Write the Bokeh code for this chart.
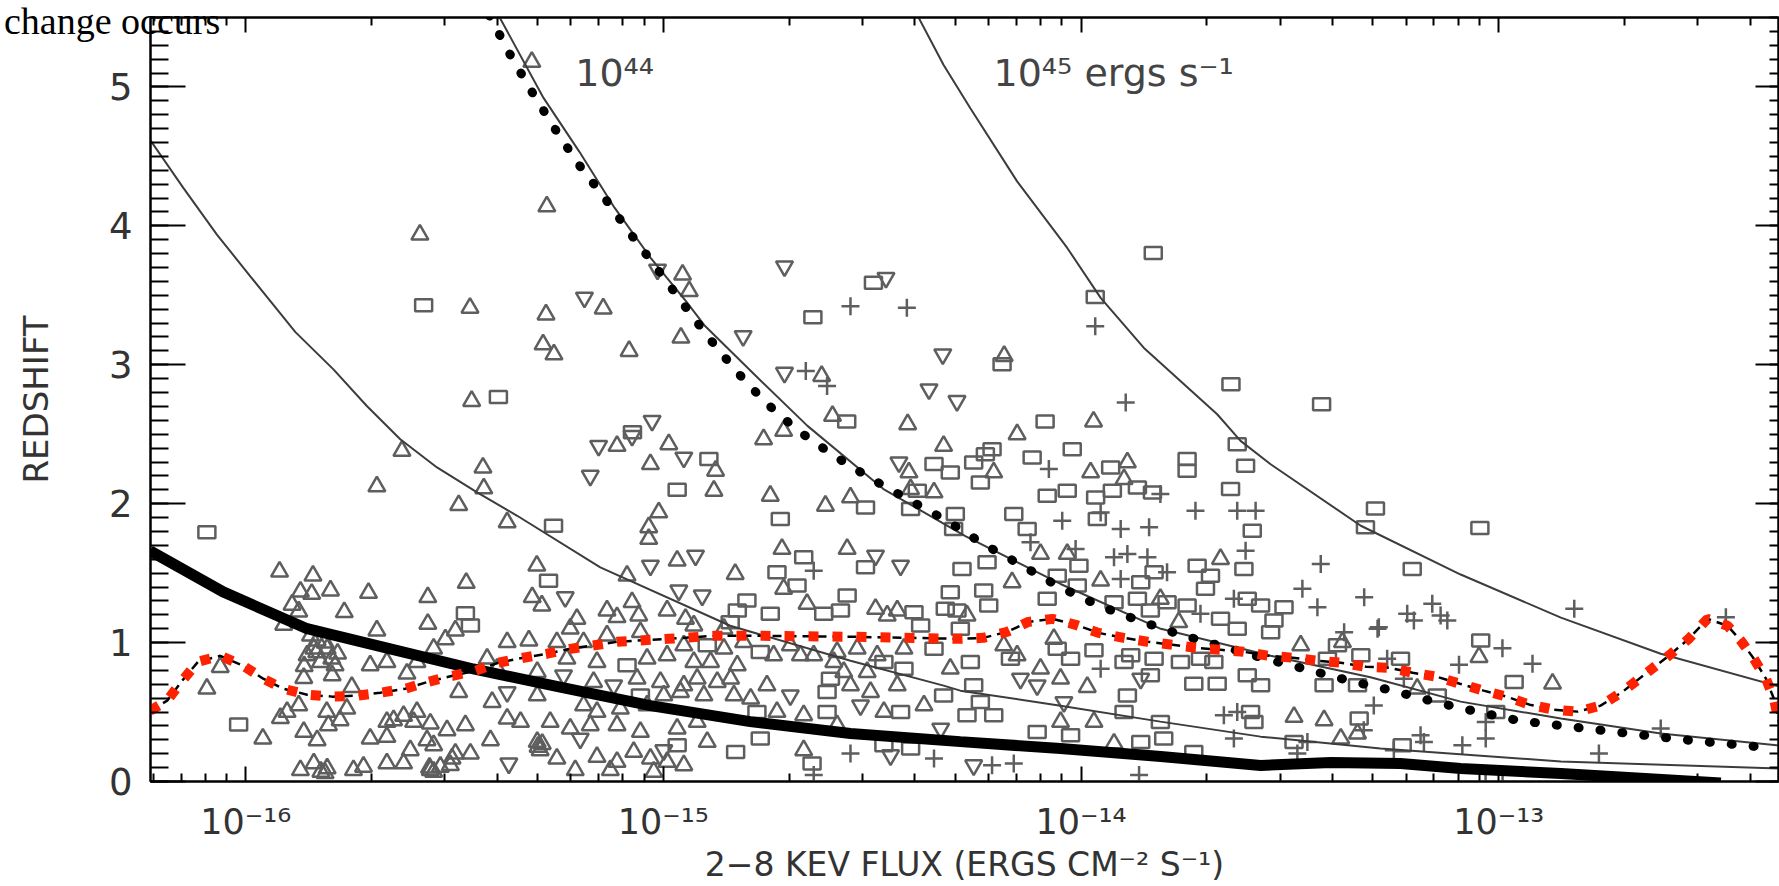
from bokeh.plotting import figure
from bokeh.models import FixedTicker, LogAxis, LinearAxis, Label, Div
from bokeh.layouts import column
from bokeh.embed import file_html
from bokeh.resources import INLINE

# ---------------- data (log10 of 2-8 keV flux, redshift) ----------------
tri_logf = [-15.315, -15.279, -15.583, -15.463, -15.281, -15.144, -15.288, -15.262, -15.082, -14.958,
            -14.954, -14.938, -15.459, -14.184, -14.621, -14.595, -14.415, -13.970,
            -15.626, -15.432, -15.686, -15.430, -15.490, -15.374, -15.919, -15.839, -15.472, -15.303,
            -15.869, -15.842, -15.797, -15.706, -15.564, -15.314, -15.291, -15.889, -15.873, -15.764,
            -15.909, -15.564, -15.498, -15.686, -15.522, -15.829, -15.837, -15.805, -15.374, -15.322,
            -15.550, -15.853, -15.794, -15.821, -15.786, -15.702, -15.662, -15.590, -15.422, -15.398,
            -15.614, -15.793, -15.861, -15.302, -16.061, -16.093, -15.490, -15.746, -15.410, -15.302,
            -15.873, -15.901, -15.917, -15.806, -15.758, -15.802, -15.774, -15.662, -15.622, -15.590,
            -15.558, -15.598, -15.646, -15.374, -15.342, -15.271, -15.861, -15.829, -15.959, -15.702,
            -15.662, -15.566, -15.518, -15.474, -15.414, -15.302, -15.295, -15.606, -15.550, -15.498,
            -15.462, -15.506, -15.869, -15.837, -15.805, -15.742, -15.718, -15.662, -15.622, -15.558,
            -15.534, -15.510, -15.255, -15.845, -15.810, -15.830, -15.780, -15.860, -15.300, -15.290,
            -15.820, -15.810, -15.550, -15.560,
            -14.987, -15.111, -14.760, -14.712, -14.329, -15.031, -14.875, -14.879, -14.744, -14.412,
            -14.408, -14.352, -14.612, -14.552, -15.011, -15.035, -15.035, -14.716, -14.967, -14.560,
            -14.828, -14.712, -15.087, -14.656, -15.075, -15.135, -15.207, -15.223, -15.111, -15.059,
            -14.991, -14.947, -14.927, -14.855, -14.492, -14.464, -14.440, -14.273, -15.255, -15.191,
            -15.135, -15.055, -14.951, -14.855, -14.808, -14.736, -14.696, -14.672, -14.640, -14.584,
            -14.536, -14.488, -14.424, -15.231, -15.159, -15.039, -14.991, -14.927, -14.887, -14.823,
            -14.592, -14.568, -14.512, -14.313, -15.167, -15.063, -15.007, -14.951, -14.919, -14.871,
            -14.839, -14.752, -14.552, -14.504, -14.440, -14.376, -14.999, -14.959, -14.903, -14.831,
            -14.791, -14.472, -15.191, -15.159, -15.103, -15.039, -14.728, -14.664, -15.223, -15.175,
            -15.111, -15.055, -14.967, -14.919, -14.895, -14.584, -15.159, -15.111, -15.071, -15.031,
            -14.991, -14.951, -15.211, -15.127, -15.023, -14.664,
            -14.153, -13.977, -13.889, -14.209, -13.897, -14.097, -14.033, -13.953, -14.165, -13.666,
            -13.810, -13.766, -13.474, -13.374, -14.065, -14.185, -14.153, -14.097, -14.049, -13.985,
            -14.049, -13.969, -13.490, -13.418, -13.921, -13.378, -13.338,
            -13.047, -12.871, -13.195]
tri_z = [5.18, 4.14, 3.937, 3.41, 3.362, 3.405, 3.147, 3.075, 3.099, 3.195,
         3.649, 3.53, 2.739, 3.063, 2.919, 2.632, 2.572, 2.591,
         2.38, 2.26, 2.124, 2.11, 1.99, 1.866, 1.511, 1.482, 1.43, 1.554,
         1.367, 1.351, 1.375, 1.358, 1.327, 1.327, 1.267, 1.272, 1.224, 1.219,
         1.128, 1.135, 1.087, 1.087, 1.023, 1.015, 0.956, 0.956, 1.003, 1.015,
         0.956, 0.908, 0.884, 0.86, 0.836, 0.836, 0.86, 0.86, 0.884, 0.812,
         0.776, 0.764, 0.745, 0.788, 0.824, 0.668, 0.644, 0.68, 0.572, 0.62,
         0.548, 0.501, 0.457, 0.501, 0.524, 0.405, 0.441, 0.429, 0.472, 0.501,
         0.417, 0.429, 0.441, 0.453, 0.429, 0.429, 0.357, 0.297, 0.309, 0.309,
         0.321, 0.297, 0.369, 0.405, 0.297, 0.285, 0.225, 0.225, 0.261, 0.201,
         0.201, 0.165, 0.082, 0.13, 0.094, 0.082, 0.106, 0.13, 0.13, 0.082,
         0.106, 0.118, 0.165, 1.05, 1.0, 0.93, 0.92, 0.83, 0.25, 0.27,
         0.07, 0.06, 0.07, 0.10,
         2.428, 2.416, 2.464, 2.524, 2.416, 2.285, 2.237, 2.093, 2.057, 2.225,
         2.105, 2.081, 1.985, 2.045, 1.937, 1.83, 1.746, 1.674, 1.59, 1.674,
         1.494, 1.387, 1.482, 1.279, 1.291, 1.231, 1.171, 1.1, 1.183, 1.195,
         1.231, 1.171, 1.123, 1.1, 1.243, 1.195, 1.231, 1.195, 1.003, 1.003,
         1.051, 1.075, 0.98, 0.956, 1.003, 0.908, 0.98, 0.908, 0.908, 0.932,
         0.956, 0.908, 0.956, 0.884, 0.86, 0.884, 0.908, 0.86, 0.86, 0.836,
         0.86, 0.788, 0.788, 0.812, 0.716, 0.74, 0.716, 0.692, 0.74, 0.716,
         0.74, 0.692, 0.692, 0.644, 0.692, 0.548, 0.62, 0.644, 0.62, 0.62,
         0.596, 0.501, 0.548, 0.501, 0.524, 0.548, 0.501, 0.477, 0.381, 0.405,
         0.405, 0.357, 0.381, 0.429, 0.285, 0.405, 0.177, 0.141, 0.213, 0.165,
         0.141, 0.117, 0.082, 0.082, 0.07, 0.225,
         2.5, 2.225, 2.297, 2.225, 2.177, 1.638, 1.638, 1.446, 1.434, 1.602,
         1.315, 1.147, 0.98, 1.003, 1.027, 0.98, 0.908, 0.812, 0.74, 0.68,
         0.429, 0.429, 0.465, 0.441, 0.273, 0.309, 0.345,
         0.896, 0.704, 0.668]

inv_logf = [-15.189, -15.014, -15.027, -14.710, -14.467, -14.809, -14.331, -14.710, -14.364, -14.297,
            -15.374, -15.370, -15.155, -15.075, -14.951, -15.175, -14.436, -14.923, -15.031, -14.492,
            -14.432, -15.235, -14.963, -14.907, -15.239, -15.119, -14.696, -14.528, -15.199, -14.336,
            -14.999, -14.456, -14.145, -14.105, -13.857, -14.041, -14.257]
inv_z = [3.484, 3.685, 2.596, 3.709, 3.626, 3.206, 3.075, 2.943, 2.823, 2.739,
         0.644, 0.13, 2.416, 2.488, 2.332, 2.201, 2.297, 1.626, 1.554, 1.626,
         1.554, 1.327, 1.375, 1.339, 0.764, 0.692, 0.62, 0.548, 0.309, 0.381,
         0.225, 0.189, 0.74, 0.692, 0.74, 0.572, 0.117]

sq_logf = [-15.574, -15.395, -15.074, -14.497, -14.642, -13.827, -13.966, -14.189, -13.641, -14.561,
           -14.086, -13.424, -15.263, -16.093, -15.275, -15.474, -15.462, -16.017,
           -14.891, -14.967, -14.352, -14.313, -14.392, -14.720, -14.516, -14.408, -14.301, -14.305,
           -14.516, -14.664, -14.728, -14.285, -14.680, -14.800, -14.560, -14.313, -14.744, -14.823,
           -14.840, -14.616, -14.576, -14.400, -14.325, -14.297, -14.384, -14.289, -14.895, -14.768,
           -14.472, -14.352, -15.087, -14.600, -14.424, -14.608, -14.329, -15.055, -14.432, -14.776,
           -14.608, -14.967, -14.768, -14.827, -14.644, -14.472, -14.408,
           -14.213, -14.229, -14.257, -14.117, -14.021, -13.746, -13.746, -13.626, -13.606, -13.929,
           -14.241, -14.081, -14.033, -13.965, -13.925, -13.865, -13.829, -13.642, -14.161, -13.961,
           -14.129, -13.590, -14.225, -14.005, -14.233, -14.221, -14.057, -14.009, -14.081, -13.857,
           -13.825, -13.722, -13.610, -13.690, -13.702, -13.602, -13.570, -13.514, -13.538, -13.546,
           -13.794, -13.746, -13.666, -13.626, -13.834, -13.865, -13.921, -13.386, -13.330, -13.410,
           -14.057, -13.969, -14.025, -13.881, -13.825, -13.762, -13.714, -13.682, -14.169, -14.265,
           -13.897, -13.834, -13.730, -13.674, -13.602, -13.570, -13.418, -13.338, -13.889, -14.257,
           -14.241, -14.273, -14.209, -13.897, -13.810, -13.594, -13.586, -13.334, -14.105, -14.025,
           -13.857, -13.802, -13.490, -13.730,
           -13.295, -13.319, -13.045, -13.207, -13.043, -12.963, -13.235, -13.147, -13.007, -13.231,
           -13.011]
sq_z = [3.429, 2.768, 2.514, 3.59, 3.343, 3.805, 3.487, 3.003, 2.859, 2.591,
        2.591, 2.716, 1.842, 1.794, 1.446, 1.212, 1.123, 0.41,
        2.321, 2.1, 2.285, 2.225, 2.093, 1.89, 1.973, 1.961, 1.925, 1.818,
        1.542, 1.614, 1.506, 1.53, 1.411, 1.303, 1.339, 1.363, 1.207, 1.231,
        1.147, 1.207, 1.231, 1.219, 1.243, 1.231, 1.123, 1.1, 0.98, 0.932,
        0.86, 0.956, 0.836, 0.74, 0.812, 0.644, 0.62, 0.62, 0.501, 0.501,
        0.501, 0.261, 0.309, 0.213, 0.13, 0.261, 0.237,
        2.392, 2.356, 2.297, 2.332, 2.392, 2.321, 2.237, 2.428, 2.273, 2.261,
        2.153, 2.057, 2.093, 2.045, 2.093, 2.117, 2.081, 2.105, 1.925, 1.89,
        1.818, 1.806, 1.578, 1.554, 1.375, 1.267, 1.482, 1.411, 1.315, 1.434,
        1.506, 1.554, 1.53, 1.482, 1.387, 1.315, 1.267, 1.255, 1.159, 1.075,
        1.291, 1.267, 1.171, 1.1, 1.231, 1.315, 1.291, 0.98, 0.908, 0.884,
        0.956, 0.944, 0.884, 0.908, 0.884, 0.86, 0.884, 0.86, 0.884, 0.86,
        0.86, 0.764, 0.704, 0.704, 0.764, 0.692, 0.692, 0.692, 0.62, 0.692,
        0.572, 0.477, 0.477, 0.501, 0.429, 0.501, 0.429, 0.453, 0.357, 0.333,
        0.285, 0.309, 0.285, 0.213,
        1.966, 1.83, 1.825, 1.53, 1.015, 0.716, 0.884, 0.62, 0.501, 0.261,
        0.022]

plus_logf = [-14.552, -14.417, -13.966, -14.659, -14.608, -13.893, -14.640, -14.552, -14.352, -14.640,
             -14.077, -13.810, -14.045, -13.953, -13.905, -13.837, -14.121, -13.726, -13.626, -13.582,
             -13.606, -14.013, -13.921, -13.889, -13.841, -13.905, -13.794, -13.426, -13.470, -13.322,
             -13.434, -13.634, -13.714, -13.370, -13.290, -13.953, -13.658, -13.626, -13.634, -13.458,
             -13.482, -14.213, -14.161, -13.861,
             -13.287, -13.219, -13.203, -13.159, -13.139, -13.123, -12.819, -12.456, -12.991, -13.095,
             -12.919, -13.267, -13.227, -13.299, -13.323, -13.187, -13.179, -13.031, -13.031, -13.087,
             -13.251, -12.760, -12.612]
plus_z = [3.422, 3.41, 3.278, 2.955, 2.847, 2.728, 1.518, 0.201, 0.165, 0.046,
          2.249, 2.069, 1.878, 1.937, 1.818, 1.83, 1.722, 1.949, 1.949, 1.949,
          1.662, 1.674, 1.614, 1.638, 1.614, 1.458, 1.506, 1.566, 1.387, 1.327,
          1.255, 1.315, 1.207, 1.075, 1.1, 0.812, 0.477, 0.501, 0.309, 0.285,
          0.201, 0.117, 0.129, 0.046,
          1.111, 1.207, 1.159, 1.279, 1.195, 1.159, 1.243, 1.183, 0.96, 0.841,
          0.848, 0.884, 0.74, 0.548, 0.369, 0.333, 0.285, 0.429, 0.309, 0.261,
          0.225, 0.201, 0.381]

# constant-luminosity curves
lum43_logf = [-16.229, -16.149, -16.069, -15.989, -15.881, -15.790, -15.710, -15.630, -15.542, -15.446,
              -15.350, -15.151, -14.840, -14.552, -14.329, -14.289, -14.049, -13.810, -13.570, -13.283,
              -12.851, -12.327]
lum43_z = [4.619, 4.272, 3.937, 3.637, 3.235, 2.967, 2.703, 2.464, 2.261, 2.081,
           1.913, 1.542, 1.121, 0.869, 0.69, 0.654, 0.546, 0.431, 0.323, 0.237,
           0.144, 0.093]
lum44_logf = [-15.395, -15.287, -15.201, -15.117, -15.031, -14.945, -14.902, -14.782, -14.655, -14.473,
              -14.277, -14.049, -13.809, -13.546, -13.307, -13.091, -12.851, -12.612, -12.327]
lum44_z = [5.517, 4.921, 4.533, 4.131, 3.772, 3.455, 3.285, 2.93, 2.56, 2.105,
           1.767, 1.422, 1.099, 0.905, 0.75, 0.575, 0.453, 0.345, 0.259]
lum45_logf = [-14.392, -14.329, -14.265, -14.153, -14.033, -13.953, -13.850, -13.674, -13.618, -13.546,
              -13.330, -13.091, -12.851, -12.612, -12.327]
lum45_z = [5.517, 5.158, 4.847, 4.320, 3.841, 3.482, 3.123, 2.644, 2.452, 2.284,
           1.841, 1.49, 1.18, 0.92, 0.682]

# black dotted curve
dot_logf = [-15.417, -15.369, -15.316, -15.261, -15.204, -15.141, -15.079, -15.017, -14.955, -14.892,
            -14.825, -14.756, -14.679, -14.590, -14.501, -14.411, -14.320, -14.234, -14.140, -14.052,
            -13.956, -13.860, -13.762, -13.659, -13.560, -13.457, -13.359, -13.254, -13.156, -13.053,
            -12.952, -12.849, -12.746, -12.643, -12.538, -12.435, -12.382]
dot_z = [5.517, 5.244, 4.971, 4.705, 4.447, 4.203, 3.944, 3.70, 3.448, 3.197,
         2.953, 2.73, 2.529, 2.342, 2.177, 2.026, 1.875, 1.71, 1.552, 1.401,
         1.264, 1.157, 1.056, 0.97, 0.884, 0.805, 0.726, 0.654, 0.575, 0.503,
         0.438, 0.402, 0.366, 0.33, 0.295, 0.266, 0.251]

# thick black solid curve
solid_logf = [-16.229, -16.054, -15.853, -15.654, -15.455, -15.247, -15.031, -14.792, -14.552, -14.289,
              -14.049, -13.809, -13.570, -13.402, -13.235, -13.091, -12.851, -12.468]
solid_z = [1.66, 1.365, 1.10, 0.955, 0.81, 0.68, 0.546, 0.431, 0.345, 0.287,
           0.237, 0.18, 0.115, 0.137, 0.129, 0.093, 0.057, -0.01]

# red dashed curve
red_logf = [-16.229, -16.188, -16.152, -16.114, -16.061, -16.006, -15.958, -15.910, -15.853, -15.793,
            -15.733, -15.678, -15.618, -15.563, -15.505, -15.450, -15.395, -15.335, -15.278, -15.223,
            -15.110, -14.990, -14.875, -14.768, -14.552, -14.289, -14.234, -14.176, -14.126, -14.068,
            -14.013, -13.958, -13.898, -13.841, -13.781, -13.726, -13.666, -13.611, -13.551, -13.493,
            -13.434, -13.378, -13.318, -13.263, -13.206, -13.148, -13.093, -13.036, -12.981, -12.926,
            -12.868, -12.811, -12.756, -12.703, -12.648, -12.593, -12.545, -12.500, -12.452, -12.420,
            -12.389, -12.360, -12.341, -12.329]
red_z = [0.51, 0.582, 0.726, 0.862, 0.905, 0.833, 0.74, 0.668, 0.625, 0.611,
         0.618, 0.639, 0.668, 0.718, 0.761, 0.797, 0.855, 0.891, 0.92, 0.955,
         1.006, 1.027, 1.049, 1.049, 1.042, 1.027, 1.034, 1.078, 1.149, 1.171,
         1.128, 1.07, 1.034, 1.006, 0.984, 0.963, 0.948, 0.934, 0.905, 0.891,
         0.869, 0.855, 0.826, 0.819, 0.783, 0.754, 0.704, 0.654, 0.611, 0.553,
         0.517, 0.503, 0.546, 0.647, 0.776, 0.905, 1.027, 1.171, 1.121, 1.013,
         0.884, 0.74, 0.596, 0.431]

x_major = [1e-16, 1e-15, 1e-14, 1e-13]
x_tick_labels = ["10\u207b\u00b9\u2076", "10\u207b\u00b9\u2075", "10\u207b\u00b9\u2074", "10\u207b\u00b9\u00b3"]
y_major = [0, 1, 2, 3, 4, 5]
x_title = "2\u22128 KEV FLUX (ERGS CM\u207b\u00b2 S\u207b\u00b9)"
y_title = "REDSHIFT"


def fl(v):
    return [10.0 ** a for a in v]


x_minor = [m * 10.0 ** e for e in range(-17, -12) for m in range(2, 10)]
y_minor = [i / 10 for i in range(0, 56)]

p = figure(width=1779, height=886, x_axis_type="log",
           x_range=(10 ** -16.228, 10 ** -12.330), y_range=(0, 5.5),
           output_backend="svg", toolbar_location=None,
           min_border_left=150, min_border_right=1, min_border_top=17, min_border_bottom=103)
p.xgrid.visible = False
p.ygrid.visible = False
p.outline_line_color = "black"
p.outline_line_width = 2
p.background_fill_color = "white"
p.border_fill_color = "white"

FONT = "DejaVu Sans"
TXT = "#333333"

xt = FixedTicker(ticks=x_major, minor_ticks=x_minor)
yt = FixedTicker(ticks=y_major, minor_ticks=y_minor)

bx = p.xaxis[0]
bx.ticker = xt
bx.major_label_overrides = dict(zip(x_major, x_tick_labels))
bx.major_tick_in, bx.major_tick_out = 15, 0
bx.minor_tick_in, bx.minor_tick_out = 8, 0
bx.major_label_standoff = 20
bx.major_label_text_font = FONT
bx.major_label_text_font_size = "35px"
bx.major_label_text_color = TXT
bx.axis_label = x_title
bx.axis_label_text_font = FONT
bx.axis_label_text_font_style = "normal"
bx.axis_label_text_font_size = "33px"
bx.axis_label_text_color = TXT
bx.axis_label_standoff = 0

ly = p.yaxis[0]
ly.ticker = yt
ly.major_tick_in, ly.major_tick_out = 35, 0
ly.minor_tick_in, ly.minor_tick_out = 18, 0
ly.major_label_standoff = 18
ly.major_label_text_font = FONT
ly.major_label_text_font_size = "37px"
ly.major_label_text_color = TXT
ly.axis_label = y_title
ly.axis_label_text_font = FONT
ly.axis_label_text_font_style = "normal"
ly.axis_label_text_font_size = "34px"
ly.axis_label_text_color = TXT
ly.axis_label_standoff = 50

top = LogAxis(ticker=xt, major_label_text_font_size="1px", major_label_text_color=None,
              major_label_standoff=0,
              major_tick_in=15, major_tick_out=0, minor_tick_in=8, minor_tick_out=0)
right = LinearAxis(ticker=yt, major_label_text_font_size="1px", major_label_text_color=None,
                   major_label_standoff=0,
                   major_tick_in=23, major_tick_out=0, minor_tick_in=9, minor_tick_out=0)
p.add_layout(top, "above")
p.add_layout(right, "right")

for ax in [bx, ly, top, right]:
    ax.axis_line_width = 2
    ax.axis_line_color = "black"
    ax.major_tick_line_width = 2
    ax.minor_tick_line_width = 2
    ax.major_tick_line_color = "black"
    ax.minor_tick_line_color = "black"

MK = "#5e5e5e"
p.scatter(fl(tri_logf), tri_z, marker="triangle", size=17, fill_color=None, line_color=MK, line_width=2.5)
p.scatter(fl(inv_logf), inv_z, marker="inverted_triangle", size=17, fill_color=None, line_color=MK, line_width=2.5)
p.rect(fl(sq_logf), sq_z, width=17, height=12, width_units="screen", height_units="screen",
       fill_color=None, line_color=MK, line_width=2.5)
p.scatter(fl(plus_logf), plus_z, marker="cross", size=18, line_color=MK, line_width=2.5)

CURVE = "#3c3c3c"
p.line(fl(lum43_logf), lum43_z, line_color=CURVE, line_width=2)
p.line(fl(lum44_logf), lum44_z, line_color=CURVE, line_width=2)
p.line(fl(lum45_logf), lum45_z, line_color=CURVE, line_width=2)

p.line(fl(solid_logf), solid_z, line_color="black", line_width=11)
p.line(fl(dot_logf), dot_z, line_color="black", line_width=9, line_dash="1 21", line_cap="round")
p.line(fl(red_logf), red_z, line_color="black", line_width=2.5, line_dash="9 6")
p.line(fl(red_logf), red_z, line_color="#ff2200", line_width=10, line_dash="10 14")

p.add_layout(Label(x=10 ** -15.211, y=5.10, text="10\u2074\u2074", text_font=FONT,
                   text_font_size="38px", text_color="#444444", text_baseline="alphabetic"))
p.add_layout(Label(x=10 ** -14.2096, y=5.10, text="10\u2074\u2075 ergs s\u207b\u00b9", text_font=FONT,
                   text_font_size="38px", text_color="#444444", text_baseline="alphabetic"))

note = Div(text="change occurs", width=320, height=45, margin=(2, 0, -47, 4),
           styles={"font-family": "'Liberation Serif', serif", "font-size": "38px",
                   "line-height": "38px", "color": "black", "white-space": "nowrap",
                   "position": "relative", "z-index": "10"})

open("out.html", "w").write(file_html(column(note, p), INLINE))
